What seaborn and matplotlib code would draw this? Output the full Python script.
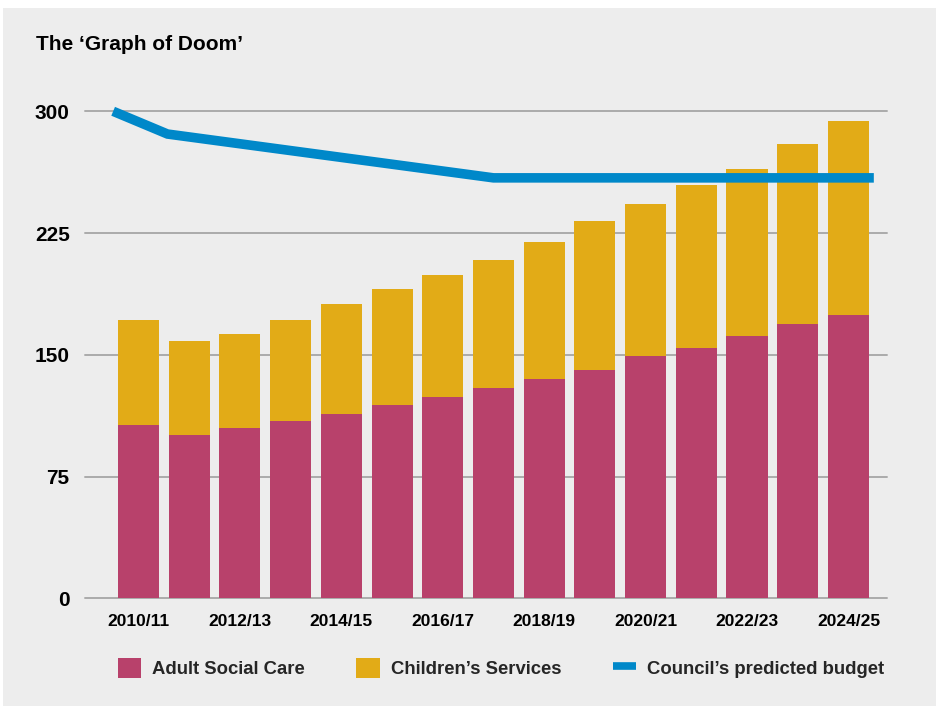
import numpy as np
import pandas as pd
import matplotlib
matplotlib.use("Agg")
import matplotlib.pyplot as plt
import seaborn as sns
from matplotlib.patches import Rectangle, Patch
from matplotlib.lines import Line2D

# ---------------- data ----------------
years = ["2010/11", "2011/12", "2012/13", "2013/14", "2014/15", "2015/16",
         "2016/17", "2017/18", "2018/19", "2019/20", "2020/21", "2021/22",
         "2022/23", "2023/24", "2024/25"]
adult_social_care = [106.8, 100.6, 104.9, 109.2, 113.5, 119.1, 124.0, 129.6,
                     135.1, 140.6, 149.3, 154.2, 161.6, 169.0, 174.5]
childrens_services = [64.6, 57.9, 57.9, 62.2, 67.8, 71.4, 75.2, 78.8,
                      84.4, 91.8, 93.6, 100.4, 102.9, 110.9, 119.5]
predicted_budget = [300.0, 286.0, 281.5, 277.0, 272.5, 268.0, 263.5, 259.0,
                    259.0, 259.0, 259.0, 259.0, 259.0, 259.0, 259.0]
y_ticks = [0, 75, 150, 225, 300]
x_tick_labels = years[::2]

title = "The \u2018Graph of Doom\u2019"
legend_labels = ["Adult Social Care", "Children\u2019s Services",
                 "Council\u2019s predicted budget"]

# ---------------- style ----------------
C_ASC = "#b8416b"
C_CHILD = "#e2ab17"
C_LINE = "#0088c9"
C_BG = "#ededed"
C_GRID = "#ababab"

sns.set_theme(style="white")
plt.rcParams["font.family"] = ["Liberation Sans", "DejaVu Sans"]

df = pd.DataFrame({
    "year": years,
    "asc": adult_social_care,
    "child": childrens_services,
})
df["total"] = df["asc"] + df["child"]

W, H = 938, 708
fig = plt.figure(figsize=(W / 100, H / 100), dpi=100)
fig.patch.set_facecolor("white")
fig.patches.append(Rectangle((3 / W, 2 / H), 933 / W, 698 / H,
                             transform=fig.transFigure, facecolor=C_BG,
                             edgecolor="none", zorder=-10))

ax_left, ax_right = 85 / W, 887 / W
y0_px, ymax = 598.3, 310
px_per_unit = 487 / 300
ax_top_px = y0_px - ymax * px_per_unit
ax = fig.add_axes([ax_left, 1 - y0_px / H, ax_right - ax_left,
                   (y0_px - ax_top_px) / H])
ax.set_facecolor("none")

# stacked bars: total (yellow) underneath, adult social care (magenta) on top
sns.barplot(data=df, x="year", y="total", order=years, color=C_CHILD,
            width=0.81, saturation=1, linewidth=0, edgecolor="none",
            ax=ax, zorder=2)
sns.barplot(data=df, x="year", y="asc", order=years, color=C_ASC,
            width=0.81, saturation=1, linewidth=0, edgecolor="none",
            ax=ax, zorder=3)

# budget line spans the plot slightly wider than the bar centres
line_x = np.linspace(-0.5, 14.5, len(predicted_budget))
ax.plot(line_x, predicted_budget, color=C_LINE, lw=6.9,
        solid_capstyle="butt", solid_joinstyle="miter", zorder=4)

ax.set_xlim(-1.055, 14.76)
ax.set_ylim(0, ymax)
ax.set_yticks(y_ticks)
ax.set_yticklabels([str(v) for v in y_ticks], fontsize=15, fontweight="bold")
ax.set_xticks(range(0, len(years), 2))
ax.set_xticklabels(x_tick_labels, fontsize=12.5, fontweight="bold")
ax.tick_params(axis="both", length=0, colors="black")
ax.tick_params(axis="y", pad=11)
ax.tick_params(axis="x", pad=11)
ax.set_xlabel("")
ax.set_ylabel("")
for s in ax.spines.values():
    s.set_visible(False)
ax.set_axisbelow(True)
ax.yaxis.grid(True, color=C_GRID, lw=1.4, clip_on=False)
ax.xaxis.grid(False)

fig.text(36 / W, 1 - 44 / H, title, fontsize=15, fontweight="bold",
         ha="left", va="center", color="black")

handles = [
    Patch(facecolor=C_ASC, edgecolor="none"),
    Patch(facecolor=C_CHILD, edgecolor="none"),
    Line2D([0], [0], color=C_LINE, lw=5.5, solid_capstyle="butt"),
]
leg = fig.legend(handles, legend_labels, loc="center",
                 bbox_to_anchor=(501 / W, 1 - 668 / H), ncol=3, frameon=False,
                 prop={"weight": "bold", "size": 13.3},
                 handlelength=1.25, handleheight=1.25, handletextpad=0.6,
                 columnspacing=2.8, borderaxespad=0)

fig.savefig("out.png", dpi=100, facecolor=fig.get_facecolor())
